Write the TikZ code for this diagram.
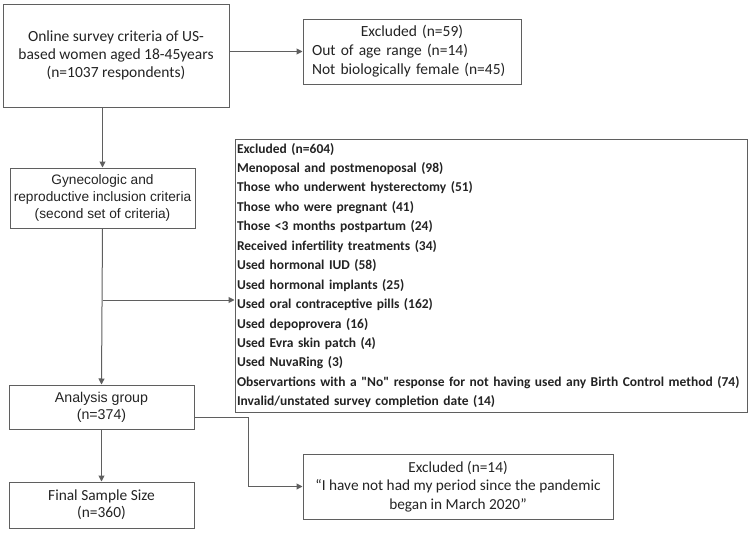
\documentclass[tikz,border=0pt]{standalone}
\usepackage{fontspec}
\setmainfont{Carlito}
\newfontfamily\arialfont{Liberation Sans}
\newfontfamily\listfont[Ligatures=TeXOff]{Carlito}
\usetikzlibrary{arrows.meta,calc}
\definecolor{boxgray}{RGB}{95,95,95}
\definecolor{txtgray}{RGB}{35,35,35}

\begin{document}
\begin{tikzpicture}
      [x = 1pt, y = -1pt,
      box/.style= {
         draw = boxgray,
         line width = 1pt,
         text = txtgray,
         align = center,
         inner sep = 0pt
      },
      link/.style= {draw = boxgray, line width = 1pt},
      arrow/.style= {link, -{Triangle[length = 6pt, width = 6pt]}}]

      \useasboundingbox (0, 0) rectangle (753, 533);

      % left column
      \node[box, minimum width = 226pt, minimum height = 103pt,
         font = \fontsize{15.5}{18}\selectfont] (survey) at (116, 55.5)
         {Online survey criteria of US-\\based women aged 18-45years\\(n=1037 respondents)};
      \node[box, minimum width = 185pt, minimum height = 60pt,
         font = \arialfont\fontsize{13.7}{16.7}\selectfont] (gyneco) at (102.5, 198)
         {Gynecologic and\\reproductive inclusion criteria\\(second set of criteria)};
      \node[box, minimum width = 185pt, minimum height = 44pt,
         font = \arialfont\fontsize{14.2}{17}\selectfont] (analysis) at (101.5, 407)
         {Analysis group\\(n=374)};
      \node[box, minimum width = 185pt, minimum height = 46pt,
         font = \fontsize{15.4}{17}\selectfont] (final) at (101.5, 505)
         {Final Sample Size\\(n=360)};

      % exclusion boxes
      \node[box, align = left, text width = 200pt, inner xsep = 9pt,
         minimum height = 65pt, font = \fontsize{15.5}{19}\selectfont] (exclage) at (412, 51.5)
         {\makebox[\linewidth]{Excluded (n=59)}\\Out of age range (n=14)\\Not biologically female (n=45)};
      \node[box, align = left, text width = 508pt, inner xsep = 2pt,
         minimum height = 273pt, font = \listfont\bfseries\fontsize{13.5}{19.45}\selectfont] (exclgyn) at (491, 275.5)
         {Excluded (n=604)\\
          Menoposal and postmenoposal (98)\\
          Those who underwent hysterectomy (51)\\
          Those who were pregnant (41)\\
          Those <3 months postpartum (24)\\
          Received infertility treatments (34)\\
          Used hormonal IUD (58)\\
          Used hormonal implants (25)\\
          Used oral contraceptive pills (162)\\
          Used depoprovera (16)\\
          Used Evra skin patch (4)\\
          Used NuvaRing (3)\\
          Observartions with a "No" response for not having used any Birth Control method (74)\\
          Invalid/unstated survey completion date (14)};
      \node[box, minimum width = 310pt, minimum height = 65pt,
         font = \fontsize{15.3}{18.3}\selectfont] (exclperiod) at (458, 486.5)
         {Excluded (n=14)\\``I have not had my period since the pandemic\\began in March 2020''};

      % connectors
      \coordinate (split) at (102.5, 300);
      \coordinate (bend) at (248, 417);

      \draw[arrow] (survey.east |- exclage.west) -- (exclage.west);
      \draw[arrow] (gyneco.north |- survey.south) -- (gyneco.north);
      \draw[arrow] (gyneco.south) -- (analysis.north);
      \draw[arrow] (split) -- (split -| exclgyn.west);
      \draw[arrow] (analysis.south) -- (final.north);
      \draw[link] (analysis.east |- bend) -- (bend);
      \draw[arrow] (bend) |- (exclperiod.west);

   \end{tikzpicture}
\end{document}
